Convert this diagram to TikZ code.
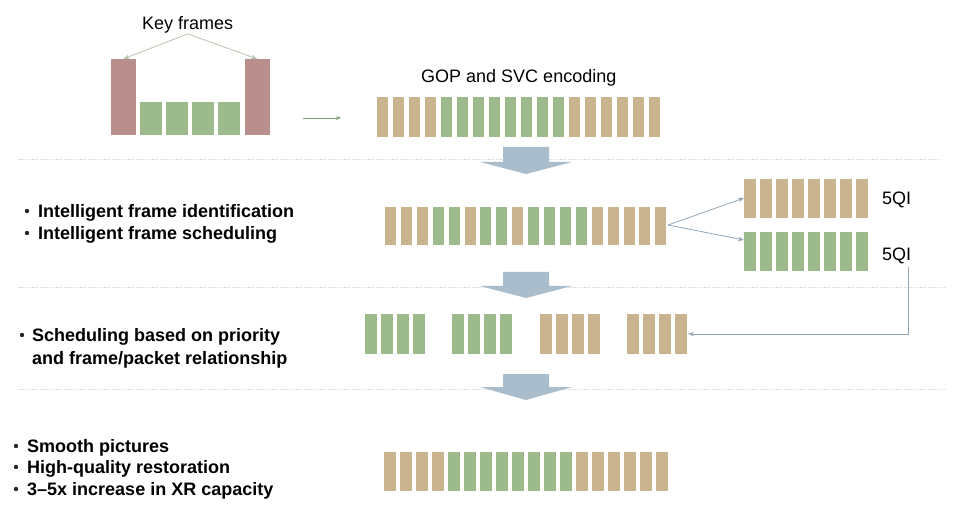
\documentclass[tikz,border=0pt]{standalone}
\usepackage{fontspec}
\setmainfont{Liberation Sans}
\usetikzlibrary{arrows.meta}
\definecolor{tanc}{HTML}{C9B48F}
\definecolor{grnc}{HTML}{9CBA8B}
\definecolor{keyred}{HTML}{B98F8E}
\definecolor{blockc}{HTML}{AABDCC}
\definecolor{linkc}{HTML}{93A6B8}
\definecolor{kfline}{HTML}{B8C6B0}
\definecolor{sepc}{HTML}{D4D4D4}
\begin{document}
\begin{tikzpicture}[x=1pt,y=-1pt,
  txt/.style={font=\fontsize{18}{20}\selectfont, inner sep=0pt, anchor=base west},
  btxt/.style={txt, font=\fontsize{18}{20}\selectfont\bfseries},
  bul/.style={circle, fill=black!85, inner sep=0pt, minimum size=4.4pt},
  sepline/.style={draw=sepc, line width=0.8pt, dash pattern=on 1.2pt off 1.2pt},
  link/.style={draw=linkc, line width=0.8pt, -{Stealth[length=6pt,width=4.5pt]}},
  kflink/.style={draw=kfline, line width=0.8pt, -{Stealth[length=6pt,width=4.5pt]}},
  blockarrow/.style={fill=blockc},
  keybar/.style={fill=keyred, draw=none, inner sep=0pt, minimum width=25pt, minimum height=76pt},
]
\useasboundingbox (0,0) rectangle (960,510);
\fill[white] (0,0) rectangle (960,510);

% separators
\draw[sepline] (18,159) -- (940,159);
\draw[sepline] (18,287) -- (945,287);
\draw[sepline] (18,389) -- (945,389);

% block arrows
\fill[blockarrow] (503,147) -- (549,147) -- (549,162) -- (572,162) -- (526,174) -- (480,162) -- (503,162) -- cycle;
\fill[blockarrow] (503,272) -- (549,272) -- (549,286) -- (572,286) -- (526,298) -- (480,286) -- (503,286) -- cycle;
\fill[blockarrow] (503,374) -- (549,374) -- (549,387) -- (572,387) -- (526,400) -- (480,387) -- (503,387) -- cycle;

% key frames
\node[txt] (kf) at (142,30) {Key frames};
\node[keybar] (kL) at (123.5,97) {};
\node[keybar] (kR) at (257,97) {};
\foreach \i in {0,...,3} \fill[grnc] (140+26*\i,102) rectangle ++(22,33);
\draw[kflink] (kf.south) -- (kL.north);
\draw[kflink] (kf.south) -- (kR.north);

% green arrow
\coordinate (ga) at (303,118);
\coordinate (gb) at (341,118);
\draw[draw=grnc!85!black, line width=0.9pt, -{Stealth[length=5pt,width=4pt]}] (ga) -- (gb);

% GOP row
\node[txt] (gop) at (421,83) {GOP and SVC encoding};
\foreach \c [count=\i from 0] in {tanc,tanc,tanc,tanc,grnc,grnc,grnc,grnc,grnc,grnc,grnc,grnc,tanc,tanc,tanc,tanc,tanc,tanc}
  \fill[\c] (377+16*\i,97) rectangle ++(11,40);

% row 2
\node[bul] (b2a) at (27,211) {};
\node[bul] (b2b) at (27,233) {};
\node[btxt] (l2a) at (38,217.5) {Intelligent frame identification};
\node[btxt] (l2b) at (38,239.5) {Intelligent frame scheduling};
\foreach \c [count=\i from 0] in {tanc,tanc,tanc,grnc,grnc,tanc,grnc,grnc,tanc,grnc,grnc,grnc,grnc,tanc,tanc,tanc,tanc,tanc}
  \fill[\c] (385+15.9*\i,207) rectangle ++(11,38);
\coordinate (r2end) at (668,225);

% split groups
\foreach \i in {0,...,7} \fill[tanc] (744+16*\i,179) rectangle ++(12,39);
\foreach \i in {0,...,7} \fill[grnc] (744+16*\i,232) rectangle ++(12,39);
\coordinate (qa) at (744,198);
\coordinate (qb) at (744,240);
\node[txt] (q1) at (882,205) {5QI};
\node[txt] (q2) at (882,261) {5QI};
\draw[link] (r2end) -- (qa);
\draw[link] (r2end) -- (qb);

% row 3
\node[bul] (b3a) at (22,335) {};
\node[btxt] (l3a) at (32,341.5) {Scheduling based on priority};
\node[btxt] (l3b) at (32,364.5) {and frame/packet relationship};
\foreach \g/\c in {0/grnc,1/grnc,2/tanc,3/tanc}
  \foreach \i in {0,...,3}
    \fill[\c] (365+87.3*\g+16*\i,314) rectangle ++(12,40);
\coordinate (r3end) at (688,334);
\coordinate (q2low) at (908,267);
\draw[link] (q2low) |- (r3end);

% row 4
\node[bul] (b4a) at (16,446) {};
\node[bul] (b4b) at (16,467) {};
\node[bul] (b4c) at (16,489) {};
\node[btxt] (l4a) at (27,452.5) {Smooth pictures};
\node[btxt] (l4b) at (27,473.5) {High-quality restoration};
\node[btxt] (l4c) at (27,495.5) {3–5x increase in XR capacity};
\foreach \c [count=\i from 0] in {tanc,tanc,tanc,tanc,grnc,grnc,grnc,grnc,grnc,grnc,grnc,grnc,tanc,tanc,tanc,tanc,tanc,tanc}
  \fill[\c] (384+16*\i,452) rectangle ++(12,39);
\end{tikzpicture}
\end{document}
